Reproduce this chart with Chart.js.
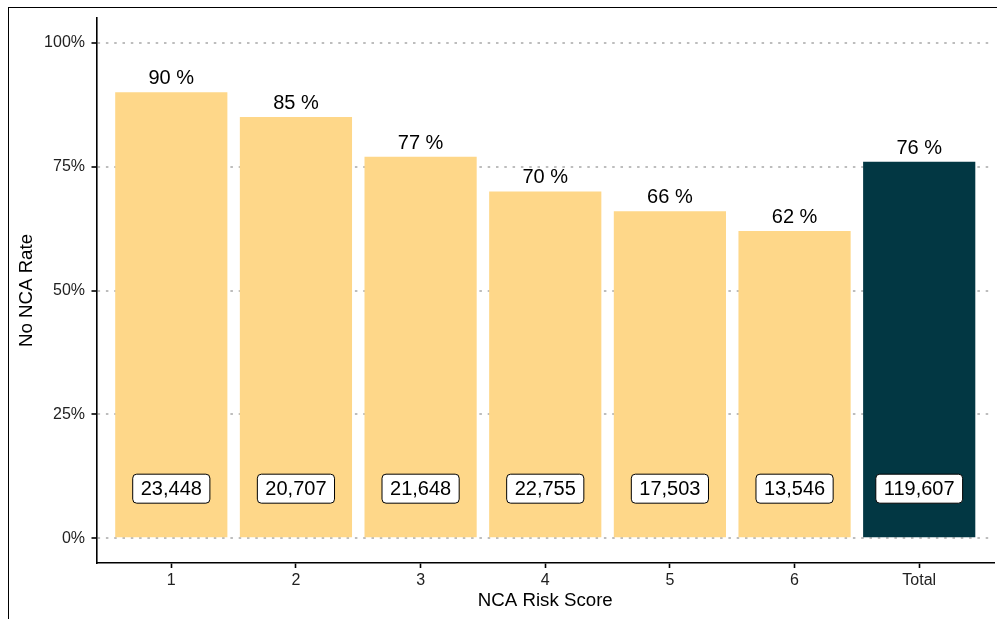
<!DOCTYPE html>
<html>
<head>
<meta charset="utf-8">
<script src="https://cdn.jsdelivr.net/npm/chart.js@4.4.1/dist/chart.umd.min.js"></script>
<style>
  html, body { margin: 0; padding: 0; background: #fff; overflow: hidden; }
  #frame { position: absolute; left: 8px; top: 7px; width: 1200px; height: 800px;
           border-left: 1.5px solid #000; border-top: 1.5px solid #000; }
  #wrap { position: absolute; left: 0; top: 0; width: 997px; height: 619px; }
</style>
</head>
<body>
<div id="frame"></div>
<div id="wrap"><canvas id="rate_plot"></canvas></div>
<script>
'use strict';

// values
var categories = ['1', '2', '3', '4', '5', '6', 'Total'];
var rates = [0.90, 0.85, 0.77, 0.70, 0.66, 0.62, 0.76];
var counts = [23448, 20707, 21648, 22755, 17503, 13546, 119607];
var yTicks = [0, 0.25, 0.5, 0.75, 1];

var YELLOW = '#FED789';
var DARK = '#023743';
var FONT = "'Liberation Sans', Arial, sans-serif";

/**
 * Percentage on top of each bar and the count box near the bottom.
 */
var barLabels = {
    id: 'barLabels',
    afterDatasetsDraw: function (chart) {
        var ctx = chart.ctx;
        var meta = chart.getDatasetMeta(0);
        var yScale = chart.scales.y;
        ctx.save();
        ctx.font = '20px ' + FONT;
        ctx.textAlign = 'center';
        meta.data.forEach(function (bar, i) {
            // rate label
            ctx.fillStyle = '#000';
            ctx.textBaseline = 'alphabetic';
            ctx.fillText(Math.round(rates[i] * 100) + ' %', bar.x, bar.y - 8);

            // count label box
            var text = counts[i].toLocaleString('en-US');
            var w = ctx.measureText(text).width + 16;
            var h = 29;
            var cy = yScale.getPixelForValue(0.1);
            ctx.beginPath();
            ctx.roundRect(bar.x - w / 2, cy - h / 2, w, h, 4);
            ctx.fillStyle = '#fff';
            ctx.fill();
            ctx.lineWidth = 1;
            ctx.strokeStyle = '#000';
            ctx.stroke();
            ctx.fillStyle = '#000';
            ctx.textBaseline = 'middle';
            ctx.fillText(text, bar.x, cy + 1);
        });
        ctx.restore();
    }
};

function DrawRateChart(container) {
    var ctx = document.getElementById(container).getContext('2d');
    new Chart(ctx, {
        type: 'bar',
        data: {
            datasets: [{
                data: rates.map(function (v, i) { return {x: i, y: v}; }),
                backgroundColor: categories.map(function (c) { return c === 'Total' ? DARK : YELLOW; }),
                borderWidth: 0,
                barPercentage: 0.9,
                categoryPercentage: 1
            }]
        },
        options: {
            animation: false,
            responsive: true,
            maintainAspectRatio: false,
            layout: {
                padding: {top: 18, right: 3, left: 0, bottom: 0}
            },
            plugins: {
                legend: {display: false},
                tooltip: {enabled: false}
            },
            scales: {
                x: {
                    type: 'linear',
                    min: -0.6,
                    max: 6.6,
                    offset: false,
                    afterBuildTicks: function (scale) {
                        scale.ticks = categories.map(function (c, i) { return {value: i}; });
                    },
                    afterFit: function (scale) { scale.height = 56; },
                    ticks: {
                        callback: function (v) { return categories[v]; },
                        color: '#222',
                        font: {family: FONT, size: 16},
                        padding: 3,
                        maxRotation: 0,
                        autoSkip: false
                    },
                    grid: {
                        offset: false,
                        drawOnChartArea: false,
                        drawTicks: true,
                        tickLength: 5,
                        tickColor: '#000',
                        tickWidth: 1.6
                    },
                    border: {color: '#000', width: 1.6},
                    title: {
                        display: true,
                        text: 'NCA Risk Score',
                        color: '#000',
                        font: {family: FONT, size: 18.7},
                        padding: {top: 0, bottom: 7}
                    }
                },
                y: {
                    min: -0.05,
                    max: 1.05,
                    afterBuildTicks: function (scale) {
                        scale.ticks = yTicks.map(function (v) { return {value: v}; });
                    },
                    afterFit: function (scale) { scale.width = 96.5; },
                    ticks: {
                        callback: function (v) { return Math.round(v * 100) + '%'; },
                        color: '#222',
                        font: {family: FONT, size: 16},
                        padding: 6.5
                    },
                    grid: {
                        color: '#bdbdbd',
                        lineWidth: 2,
                        drawTicks: true,
                        tickLength: 5,
                        tickColor: '#000',
                        tickWidth: 1.6,
                        tickBorderDash: []
                    },
                    border: {color: '#000', width: 1.6, dash: [2.5, 5.8]},
                    title: {
                        display: true,
                        text: 'No NCA Rate',
                        color: '#000',
                        font: {family: FONT, size: 18.7},
                        padding: {top: 16, bottom: 0}
                    }
                }
            }
        },
        plugins: [barLabels]
    });
}

DrawRateChart('rate_plot');
</script>
</body>
</html>
